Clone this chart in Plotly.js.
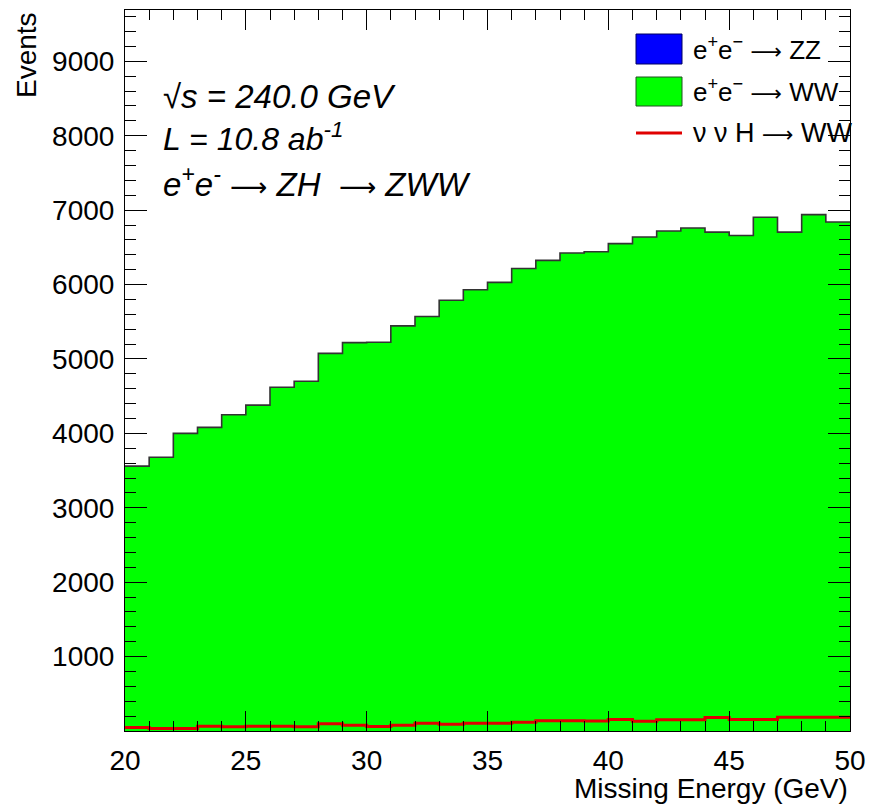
<!DOCTYPE html>
<html>
<head>
<meta charset="utf-8">
<script src="https://cdn.plot.ly/plotly-3.0.1.min.js"></script>
<style>
  html, body { margin: 0; padding: 0; background: #ffffff; }
  #chart { width: 870px; height: 807px; }
</style>
</head>
<body>
<div id="chart"></div>
<script>
// Bin edges of the missing-energy histogram (GeV), 1 GeV bins from 20 to 50
const binEdges = [20, 21, 22, 23, 24, 25, 26, 27, 28, 29, 30, 31, 32, 33, 34, 35,
                  36, 37, 38, 39, 40, 41, 42, 43, 44, 45, 46, 47, 48, 49, 50];

// e+e- -> ZZ background (no visible contribution in this range)
const zzEvents = [0, 0, 0, 0, 0, 0, 0, 0, 0, 0, 0, 0, 0, 0, 0,
                  0, 0, 0, 0, 0, 0, 0, 0, 0, 0, 0, 0, 0, 0, 0];

// e+e- -> WW background, events per bin
const wwEvents = [3560, 3680, 4000, 4080, 4250, 4380, 4620, 4700, 5075, 5220,
                  5225, 5445, 5570, 5790, 5930, 6030, 6215, 6325, 6425, 6440,
                  6550, 6640, 6720, 6760, 6705, 6660, 6905, 6705, 6940, 6840];

// nu nu H -> WW signal, events per bin
const hwwEvents = [47, 34, 34, 65, 56, 65, 65, 56, 97, 76,
                   61, 78, 105, 92, 105, 105, 118, 137, 137, 135,
                   155, 132, 150, 150, 182, 155, 155, 186, 186, 186];

// Tick labels
const xTickVals = [20, 25, 30, 35, 40, 45, 50];
const yTickVals = [1000, 2000, 3000, 4000, 5000, 6000, 7000, 8000, 9000];

// ---- helpers ----
function stepY(vals) { return vals.concat([vals[vals.length - 1]]); }
const zzStack = zzEvents.slice();
const wwStack = wwEvents.map((v, i) => v + zzEvents[i]);

const W = 870, H = 807;
const M = { l: 125, r: 20, t: 10, b: 76 };
const PW = W - M.l - M.r, PH = H - M.t - M.b;
const px = x => (x - M.l) / PW;
const py = y => (H - M.b - y) / PH;

const FONT = 'Liberation Sans, Arial, Helvetica, sans-serif';
const arrow = size => '<span style="font-family:\'DejaVu Sans\';font-size:' + size + 'px">⟶</span>';

const traces = [
  {
    name: 'e+e- → WW',
    x: binEdges, y: stepY(wwStack),
    type: 'scatter', mode: 'lines',
    line: { shape: 'hv', color: '#333333', width: 1.6 },
    fill: 'tozeroy', fillcolor: '#00ff00',
    showlegend: false, hoverinfo: 'skip'
  },
  {
    name: 'e+e- → ZZ',
    x: binEdges, y: stepY(zzStack),
    xaxis: 'x2', yaxis: 'y2',
    type: 'scatter', mode: 'lines',
    line: { shape: 'hv', color: '#000080', width: 0 },
    fill: 'tozeroy', fillcolor: '#0000ff',
    showlegend: false, hoverinfo: 'skip'
  },
  {
    name: 'ν ν H → WW',
    x: binEdges, y: stepY(hwwEvents),
    type: 'scatter', mode: 'lines',
    line: { shape: 'hv', color: '#e00000', width: 3 },
    showlegend: false, hoverinfo: 'skip'
  }
];

const axisCommon = {
  showline: true, linecolor: '#000000', linewidth: 1, mirror: true,
  ticks: 'inside', tickcolor: '#000000', tickwidth: 1,
  showgrid: false, zeroline: false,
  tickfont: { family: FONT, size: 28, color: '#000000' }
};
const xMinor = { tickmode: 'linear', tick0: 20, dtick: 1, ticklen: 10, ticks: 'inside', tickcolor: '#000000', tickwidth: 1, showgrid: false };
const yMinor = { tickmode: 'linear', tick0: 0, dtick: 200, ticklen: 11, ticks: 'inside', tickcolor: '#000000', tickwidth: 1, showgrid: false };

const layout = {
  width: W, height: H,
  margin: M,
  paper_bgcolor: '#ffffff', plot_bgcolor: '#ffffff',
  showlegend: false,
  xaxis: Object.assign({}, axisCommon, {
    range: [20, 50],
    tickmode: 'array', tickvals: xTickVals, ticktext: xTickVals.map(String),
    ticklen: 20, minor: xMinor, ticklabelstandoff: 4
  }),
  yaxis: Object.assign({}, axisCommon, {
    range: [0, 9690],
    tickmode: 'array', tickvals: yTickVals, ticktext: yTickVals.map(String),
    ticklen: 22, minor: yMinor, ticklabelstandoff: 4
  }),
  xaxis2: Object.assign({}, axisCommon, {
    overlaying: 'x', side: 'top', range: [20, 50], showticklabels: false,
    tickmode: 'array', tickvals: xTickVals, ticklen: 20, minor: xMinor
  }),
  yaxis2: Object.assign({}, axisCommon, {
    overlaying: 'y', side: 'right', range: [0, 9690], showticklabels: false,
    tickmode: 'array', tickvals: yTickVals, ticklen: 22, minor: yMinor
  }),
  shapes: [
    // legend swatches
    { type: 'rect', xref: 'paper', yref: 'paper', x0: px(636), x1: px(682), y0: py(64), y1: py(34),
      fillcolor: '#0000ff', line: { color: '#000060', width: 1 } },
    { type: 'rect', xref: 'paper', yref: 'paper', x0: px(636), x1: px(682), y0: py(106), y1: py(77),
      fillcolor: '#00ff00', line: { color: '#205020', width: 1 } },
    { type: 'line', xref: 'paper', yref: 'paper', x0: px(636), x1: px(682), y0: py(133), y1: py(133),
      line: { color: '#e00000', width: 3 } }
  ],
  annotations: [
    // legend labels
    { xref: 'paper', yref: 'paper', x: px(691), y: py(49), xanchor: 'left', yanchor: 'middle', showarrow: false,
      text: 'e<sup>+</sup>e<sup>−</sup> ' + arrow(22) + ' ZZ', font: { family: FONT, size: 26, color: '#000' } },
    { xref: 'paper', yref: 'paper', x: px(691), y: py(91), xanchor: 'left', yanchor: 'middle', showarrow: false,
      text: 'e<sup>+</sup>e<sup>−</sup> ' + arrow(22) + ' WW', font: { family: FONT, size: 26, color: '#000' } },
    { xref: 'paper', yref: 'paper', x: px(691), y: py(133), xanchor: 'left', yanchor: 'middle', showarrow: false,
      text: 'ν ν H ' + arrow(22) + ' WW', font: { family: FONT, size: 27, color: '#000' } },
    // info text
    { xref: 'paper', yref: 'paper', x: px(161), y: py(97), xanchor: 'left', yanchor: 'middle', showarrow: false,
      text: '<i>√s = 240.0 GeV</i>', font: { family: FONT, size: 33, color: '#000' } },
    { xref: 'paper', yref: 'paper', x: px(161), y: py(137), xanchor: 'left', yanchor: 'middle', showarrow: false,
      text: '<i>L = 10.8 ab<sup>-1</sup></i>', font: { family: FONT, size: 32, color: '#000' } },
    { xref: 'paper', yref: 'paper', x: px(161), y: py(182), xanchor: 'left', yanchor: 'middle', showarrow: false,
      text: '<i>e<sup>+</sup>e<sup>-</sup></i> ' + arrow(26) + ' <i>ZH</i>  ' + arrow(26) + ' <i>ZWW</i>',
      font: { family: FONT, size: 33, color: '#000' } },
    // axis titles
    { xref: 'paper', yref: 'paper', x: 1, y: py(788), xanchor: 'right', yanchor: 'middle', showarrow: false,
      text: 'Missing Energy (GeV)', font: { family: FONT, size: 28, color: '#000' } },
    { xref: 'paper', yref: 'paper', x: px(26), y: 1, xanchor: 'center', yanchor: 'top', showarrow: false,
      textangle: -90, text: 'Events', font: { family: FONT, size: 28, color: '#000' } }
  ]
};

Plotly.newPlot('chart', traces, layout, { staticPlot: true, displayModeBar: false });
</script>
</body>
</html>
